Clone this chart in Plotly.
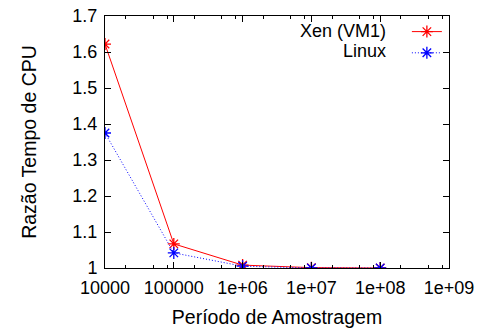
import plotly.graph_objects as go

periods = [1e4, 1e5, 1e6, 1e7, 1e8]
xen_vm1 = [1.622, 1.067, 1.008, 1.001, 1.000]
linux = [1.375, 1.042, 1.005, 1.000, 1.000]
x_tick_vals = [1e4, 1e5, 1e6, 1e7, 1e8, 1e9]
x_tick_text = ["10000", "100000", "1e+06", "1e+07", "1e+08", "1e+09"]
y_tick_vals = [1, 1.1, 1.2, 1.3, 1.4, 1.5, 1.6, 1.7]
y_tick_text = ["1", "1.1", "1.2", "1.3", "1.4", "1.5", "1.6", "1.7"]
series_names = ["Xen (VM1)", "Linux"]

minor_vals = []
for d in [1e4, 1e5, 1e6, 1e7, 1e8]:
    for m in [2, 5, 8]:
        minor_vals.append(m * d)

FONT = "Liberation Sans, Arial, sans-serif"
FS = 18
FT = 19.5

fig = go.Figure()
fig.add_trace(go.Scatter(
    x=periods, y=xen_vm1, mode="lines+markers", name=" ",
    line=dict(color="#ff0000", width=1),
    marker=dict(symbol="asterisk-open", size=10, color="#ff0000",
                line=dict(color="#ff0000", width=1.3)),
))
fig.add_trace(go.Scatter(
    x=periods, y=linux, mode="lines+markers", name=" ",
    line=dict(color="#0000ff", width=1, dash="1px,2px"),
    marker=dict(symbol="asterisk-open", size=10, color="#0000ff",
                line=dict(color="#0000ff", width=1.3)),
))

axis_common = dict(
    showline=True, linecolor="black", linewidth=1, mirror="allticks",
    ticks="inside", ticklen=6, tickcolor="black", showgrid=False,
    zeroline=False, tickfont=dict(family=FONT, size=FS, color="black"),
)

fig.update_layout(
    width=479, height=328,
    margin=dict(l=105, r=30, t=16, b=60, autoexpand=False),
    paper_bgcolor="white", plot_bgcolor="white",
    font=dict(family=FONT, size=FS, color="black"),
    showlegend=True,
    legend=dict(x=1.02, y=1.0, xanchor="right", yanchor="top",
                bgcolor="rgba(0,0,0,0)", borderwidth=0,
                font=dict(family=FONT, size=14), itemwidth=30,
                tracegroupgap=0),
    xaxis=dict(
        type="log", range=[4, 9], tickvals=x_tick_vals, ticktext=x_tick_text,
        ticklabelstandoff=3,
        title=dict(text="Período de Amostragem", font=dict(family=FONT, size=FT), standoff=13),
        minor=dict(tickmode="array", tickvals=minor_vals, ticks="inside",
                   ticklen=3, tickcolor="black", showgrid=False),
        **axis_common,
    ),
    yaxis=dict(
        range=[1, 1.7], tickvals=y_tick_vals, ticktext=y_tick_text,
        ticklabelstandoff=3,
        title=dict(text="Razão Tempo de CPU", font=dict(family=FONT, size=FT), standoff=30),
        **axis_common,
    ),
)

ann_y = [0.940, 0.861]
for name, yy in zip(series_names, ann_y):
    fig.add_annotation(x=0.823, y=yy, xref="paper", yref="paper",
                       text=name, showarrow=False, xanchor="right",
                       yanchor="middle", font=dict(family=FONT, size=FS, color="black"))

fig.write_html("out.html", config={"displayModeBar": False},
               post_script="document.body.style.margin='0px';")
